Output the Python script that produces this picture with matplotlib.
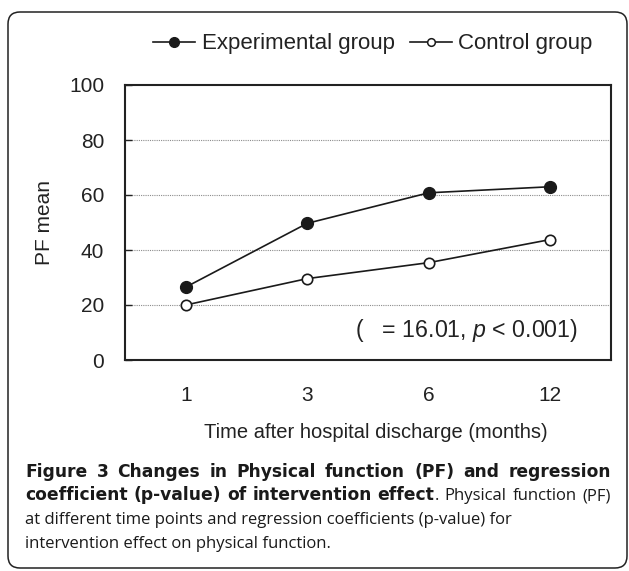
import matplotlib
matplotlib.use("Agg")
import matplotlib.pyplot as plt
import matplotlib.transforms as mtransforms
from matplotlib.patches import FancyBboxPatch
from matplotlib.lines import Line2D

# data
months = ["1", "3", "6", "12"]
experimental = [26.5, 49.7, 60.8, 63.0]
control = [20.0, 29.6, 35.4, 43.8]
yticks = [0, 20, 40, 60, 80, 100]

plt.rcParams["font.family"] = ["Liberation Sans", "DejaVu Sans"]
plt.rcParams["mathtext.fontset"] = "custom"
plt.rcParams["mathtext.it"] = "Liberation Sans:italic"
plt.rcParams["mathtext.rm"] = "Liberation Sans"

W, H = 629, 571
fig = plt.figure(figsize=(W / 100, H / 100), dpi=100)

# outer rounded frame (pixel coords)
frame = FancyBboxPatch((8, 3), 619, 556, boxstyle="round,pad=0,rounding_size=12",
                       transform=mtransforms.IdentityTransform(),
                       fill=False, edgecolor="#222222", linewidth=1.1)
fig.patches.append(frame)

ax = fig.add_axes([125 / W, 1 - 360 / H, (611 - 125) / W, (360 - 85) / H])
x = list(range(len(months)))

ax.plot(x, experimental, color="#1a1a1a", lw=1.2, marker="o", ms=8.5,
        mfc="#1a1a1a", mec="#1a1a1a", zorder=3)
ax.plot(x, control, color="#1a1a1a", lw=1.2, marker="o", ms=7.5,
        mfc="white", mec="#1a1a1a", mew=1.2, zorder=3)

ax.set_xlim(-0.5, 3.5)
ax.set_ylim(0, 100)
ax.set_yticks(yticks)
ax.set_xticks(x)
ax.set_xticklabels(months)
for yv in yticks[1:-1]:
    ax.axhline(yv, color="#8c8c8c", lw=0.8, ls=(0, (1, 1)), zorder=1)

for s in ax.spines.values():
    s.set_linewidth(1.5)
    s.set_color("#222222")
ax.tick_params(axis="y", direction="in", length=5, width=1, pad=15, labelsize=15,
               colors="#222222")
ax.tick_params(axis="x", length=0, pad=19, labelsize=15, colors="#222222")
ax.set_ylabel("PF mean", fontsize=15, labelpad=11, color="#222222")

ax.text(0.473, 0.109, "(   = 16.01, $\\it{p}$ < 0.001)", transform=ax.transAxes,
        fontsize=16.7, color="#222222", va="center", ha="left")

fig.text(376 / W, 1 - 432 / H, "Time after hospital discharge (months)",
         fontsize=14.5, ha="center", va="center", color="#222222")

# legend
h1 = Line2D([], [], color="#1a1a1a", lw=1.2, marker="o", ms=7, mfc="#1a1a1a")
h2 = Line2D([], [], color="#1a1a1a", lw=1.2, marker="o", ms=5.5, mfc="white", mew=1.1)
fig.legend([h1, h2], ["Experimental group", "Control group"], loc="center",
           bbox_to_anchor=(373 / W, 1 - 44 / H), ncol=2, frameon=False,
           fontsize=16, handlelength=1.9, handletextpad=0.3, columnspacing=0.65,
           labelcolor="#222222")

# caption: first two lines justified word by word
regular = dict(family="Open Sans", fontsize=12, fontweight="normal")
bold = dict(family="DejaVu Sans", fontsize=12.3, fontweight="bold")
x_left, x_right = 25, 611
renderer = fig.canvas.get_renderer()


def justify(words, y):
    # words: list of lists of (text, style) pieces; pieces in a word touch
    placed = []
    total = 0
    for pieces in words:
        arts = []
        for txt, st in pieces:
            t = fig.text(0, 1 - y / H, txt, color="#1a1a1a", va="baseline", **st)
            bw = t.get_window_extent(renderer).width
            arts.append((t, bw))
            total += bw
        placed.append(arts)
    gap = (x_right - x_left - total) / (len(words) - 1)
    xp = x_left
    for arts in placed:
        for t, bw in arts:
            t.set_x(xp / W)
            xp += bw
        xp += gap


line1 = "Figure 3 Changes in Physical function (PF) and regression".split()
justify([[(w, bold)] for w in line1], 477)
line2 = [[("coefficient", bold)], [("(p-value)", bold)], [("of", bold)],
         [("intervention", bold)], [("effect", bold), (".", regular)],
         [("Physical", regular)], [("function", regular)], [("(PF)", regular)]]
justify(line2, 500.5)
fig.text(x_left / W, 1 - 524 / H,
         "at different time points and regression coefficients (p-value) for",
         color="#1a1a1a", va="baseline", **regular)
fig.text(x_left / W, 1 - 547.5 / H, "intervention effect on physical function.",
         color="#1a1a1a", va="baseline", **regular)

fig.savefig("out.png", dpi=100)
